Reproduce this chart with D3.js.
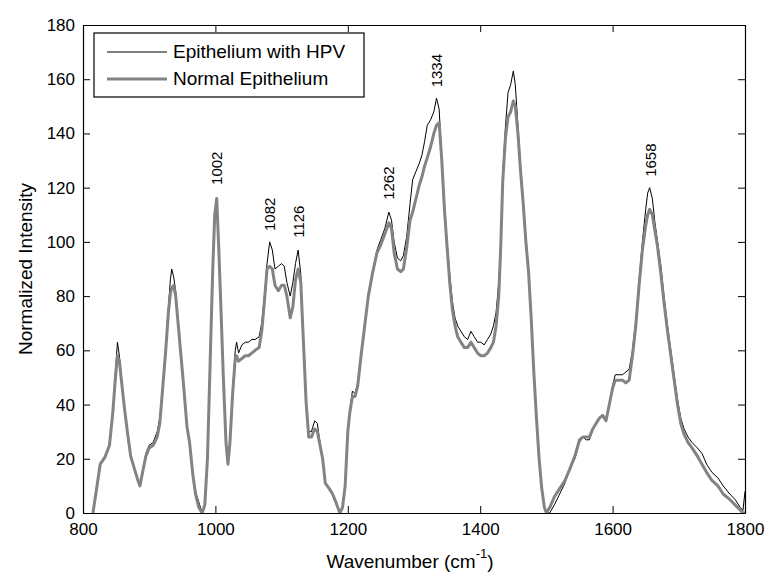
<!DOCTYPE html>
<html>
<head>
<meta charset="utf-8">
<script src="https://cdn.jsdelivr.net/npm/d3@7"></script>
<style>
    body { margin: 0; background: #fff; }
    text { font-family: "Liberation Sans", Arial, sans-serif; fill: #000; }
</style>
</head>
<body>
<div id="view"></div>
<script>
var wavenumber = [
    815, 820, 826, 833, 840, 845, 849, 852, 855, 858, 862, 867, 872, 878, 883, 886, 890, 895, 900, 906,
    912, 916, 920, 925, 929, 932, 934, 937, 940, 944, 948, 952, 957, 961, 966, 970, 975, 980, 984, 988,
    992, 996, 999, 1002, 1005, 1008, 1012, 1016, 1019, 1022, 1026, 1030, 1032, 1035, 1040, 1045, 1050, 1055, 1060, 1066,
    1070, 1074, 1078, 1082, 1086, 1090, 1095, 1100, 1104, 1108, 1113, 1117, 1121, 1125, 1129, 1133, 1137, 1141, 1145, 1150,
    1154, 1158, 1162, 1166, 1172, 1177, 1182, 1188, 1192, 1196, 1200, 1203, 1207, 1211, 1215, 1220, 1226, 1231, 1237, 1244,
    1250, 1256, 1262, 1266, 1270, 1275, 1280, 1284, 1289, 1294, 1298, 1303, 1308, 1312, 1316, 1320, 1325, 1330, 1334, 1338,
    1342, 1346, 1350, 1354, 1358, 1362, 1366, 1371, 1376, 1381, 1386, 1391, 1396, 1401, 1406, 1411, 1416, 1420, 1424, 1428,
    1431, 1434, 1438, 1442, 1446, 1450, 1453, 1457, 1461, 1465, 1469, 1473, 1477, 1481, 1485, 1489, 1493, 1497, 1500, 1505,
    1512, 1520, 1528, 1535, 1543, 1550, 1555, 1560, 1565, 1570, 1575, 1580, 1585, 1590, 1595, 1600, 1604, 1610, 1615, 1620,
    1625, 1630, 1635, 1640, 1645, 1650, 1653, 1656, 1660, 1664, 1668, 1673, 1678, 1683, 1688, 1693, 1698, 1703, 1708, 1714,
    1720, 1728, 1735, 1742, 1750, 1759, 1767, 1777, 1785, 1793, 1797, 1800
];

var hpv = [
    0, 8, 18, 21, 25, 38, 52, 63, 58, 50, 40, 30, 21, 16, 12, 10, 15, 22, 25, 26,
    30, 35, 46, 62, 76, 86, 90, 87, 82, 70, 58, 47, 32, 26, 14, 8, 4, 0, 3, 20,
    55, 90, 110, 116, 98, 78, 50, 26, 18, 26, 45, 60, 63, 59, 62, 63, 63, 64, 64, 65,
    70, 80, 92, 100, 97, 90, 91, 92, 91, 85, 80, 85, 92, 97, 88, 64, 42, 30, 30, 34,
    33, 26, 20, 11, 9, 7, 4, 0, 2, 10, 30, 38, 45, 44, 48, 58, 70, 80, 88, 97,
    101, 105, 111, 108, 100, 94, 93, 95, 102, 114, 123, 126, 129, 132, 137, 143, 145, 148, 153, 149,
    130, 114, 100, 88, 78, 72, 69, 67, 65, 64, 67, 65, 63, 63, 62, 64, 66, 69, 74, 85,
    100, 125, 142, 155, 158, 163, 158, 143, 128, 116, 102, 90, 72, 52, 35, 20, 9, 2, 0, 0,
    3, 7, 11, 16, 20, 26, 28, 27, 27, 31, 33, 35, 36, 34, 40, 47, 51, 51, 51, 52,
    53, 60, 71, 86, 100, 112, 118, 120, 116, 107, 100, 91, 79, 69, 60, 51, 42, 35, 31, 28,
    26, 24, 22, 18, 15, 13, 10, 7, 5, 2, 1, 8
];

var normal = [
    0, 8, 18, 20.5, 25, 37, 50, 58, 56, 49, 40, 30, 21, 16, 12, 10, 15, 21, 24, 25,
    28, 33, 45, 60, 74, 81, 83, 84, 80, 69, 58, 47, 32, 26, 14, 7, 2, 0, 3, 20,
    55, 90, 110, 116, 98, 78, 50, 26, 18, 26, 44, 57, 58, 56, 57, 58, 58, 59, 60, 61,
    67, 78, 90, 91, 90, 84, 82, 84, 84, 80, 72, 76, 86, 90, 85, 63, 41, 28, 28, 31,
    30, 25, 20, 11, 9, 7, 4, 0, 2, 10, 30, 37, 43, 43, 47, 58, 70, 80, 88, 96,
    99, 103, 107, 105, 96, 90, 89, 90, 98, 108, 111, 116, 121, 124, 128, 131, 135, 140, 143, 144,
    130, 112, 98, 85, 75, 69, 65, 63, 61, 61, 63, 61, 59, 58, 58, 59, 61, 63, 69, 80,
    98, 122, 138, 146, 148, 152, 150, 140, 126, 114, 100, 89, 72, 52, 35, 20, 9, 2, 0, 2,
    6, 9, 12, 16, 21, 27, 28, 28, 28, 31, 33, 35, 36, 34, 40, 46, 49, 49, 49, 48,
    49, 58, 69, 84, 97, 106, 110, 112, 110, 104, 98, 88, 77, 67, 58, 49, 40, 33, 29, 26,
    24, 21, 18, 15, 12, 10, 7, 5, 3, 1, 0, 0
];

var seriesNames = ['Epithelium with HPV', 'Normal Epithelium'];
var peakLabels = [1002, 1082, 1126, 1262, 1334, 1658];
var peakLabelY = [121, 104, 101.5, 115.5, 157, 124];
var xTicks = [800, 1000, 1200, 1400, 1600, 1800];
var yTicks = [0, 20, 40, 60, 80, 100, 120, 140, 160, 180];

var width = 765;
var height = 572;
var margin = {top: 25, right: 20, bottom: 59, left: 83};

var svg = d3.select('#view').append('svg')
    .attr('width', width)
    .attr('height', height);

svg.append('rect')
    .attr('width', width)
    .attr('height', height)
    .attr('fill', '#fff');

var x = d3.scaleLinear().domain([800, 1800]).range([margin.left, width - margin.right]);
var y = d3.scaleLinear().domain([0, 180]).range([height - margin.bottom, margin.top]);

svg.append('clipPath')
    .attr('id', 'plot')
    .append('rect')
    .attr('x', margin.left)
    .attr('y', margin.top)
    .attr('width', x.range()[1] - x.range()[0])
    .attr('height', y.range()[0] - y.range()[1]);

var series = [
    {name: seriesNames[0], values: hpv, color: '#000', width: 1},
    {name: seriesNames[1], values: normal, color: '#838383', width: 3},
];

var line = d3.line()
    .x(d => x(d[0]))
    .y(d => y(d[1]));

svg.append('g')
    .attr('clip-path', 'url(#plot)')
    .selectAll('path')
    .data(series)
    .enter()
    .append('path')
    .attr('fill', 'none')
    .attr('stroke', d => d.color)
    .attr('stroke-width', d => d.width)
    .attr('stroke-linejoin', 'round')
    .attr('d', d => line(wavenumber.map((w, i) => [w, d.values[i]])));

// matlab style box: ticks point inward on all four sides
var tick = 7;
var fmt = d3.format('d');
var axes = [
    {axis: d3.axisBottom(x).tickValues(xTicks).tickFormat(fmt).tickPadding(10), at: `translate(0, ${y(0)})`},
    {axis: d3.axisTop(x).tickValues(xTicks).tickFormat(''), at: `translate(0, ${y(180)})`},
    {axis: d3.axisLeft(y).tickValues(yTicks).tickFormat(fmt).tickPadding(8), at: `translate(${x(800)}, 0)`},
    {axis: d3.axisRight(y).tickValues(yTicks).tickFormat(''), at: `translate(${x(1800)}, 0)`},
];

axes.forEach(d => {
    var g = svg.append('g')
        .attr('transform', d.at)
        .call(d.axis.tickSizeInner(-tick).tickSizeOuter(0));
    g.select('.domain').attr('stroke', '#000').attr('stroke-width', 1.2);
    g.selectAll('.tick line').attr('stroke', '#000');
    g.selectAll('.tick text')
        .attr('fill', '#000')
        .style('font-family', '"Liberation Sans", Arial, sans-serif')
        .style('font-size', '17px');
});

svg.append('text')
    .attr('transform', `translate(32, ${(y(0) + y(180)) / 2}) rotate(-90)`)
    .attr('text-anchor', 'middle')
    .style('font-size', '19px')
    .text('Normalized Intensity');

var xLabel = svg.append('text')
    .attr('x', 410)
    .attr('y', 568)
    .attr('text-anchor', 'middle')
    .style('font-size', '19px');
xLabel.append('tspan').text('Wavenumber (cm');
xLabel.append('tspan').attr('dy', -10).style('font-size', '13px').text('-1');
xLabel.append('tspan').attr('dy', 10).text(')');

svg.selectAll('text.peak')
    .data(peakLabels)
    .enter()
    .append('text')
    .attr('class', 'peak')
    .attr('transform', (d, i) => `translate(${x(d)}, ${y(peakLabelY[i])}) rotate(-90)`)
    .attr('dy', '0.35em')
    .style('font-size', '15px')
    .text(d => d);

var legend = svg.append('g').attr('transform', 'translate(94, 33)');

legend.append('rect')
    .attr('width', 270)
    .attr('height', 64)
    .attr('fill', '#fff')
    .attr('stroke', '#000')
    .attr('stroke-width', 1.2);

var items = legend.selectAll('g.item')
    .data(series)
    .enter()
    .append('g')
    .attr('class', 'item')
    .attr('transform', (d, i) => `translate(0, ${19 + i * 27})`);

items.append('line')
    .attr('x1', 13)
    .attr('x2', 73)
    .attr('stroke', d => d.color)
    .attr('stroke-width', d => d.width);

items.append('text')
    .attr('x', 79)
    .attr('y', 6)
    .style('font-size', '19px')
    .text(d => d.name);
</script>
</body>
</html>
